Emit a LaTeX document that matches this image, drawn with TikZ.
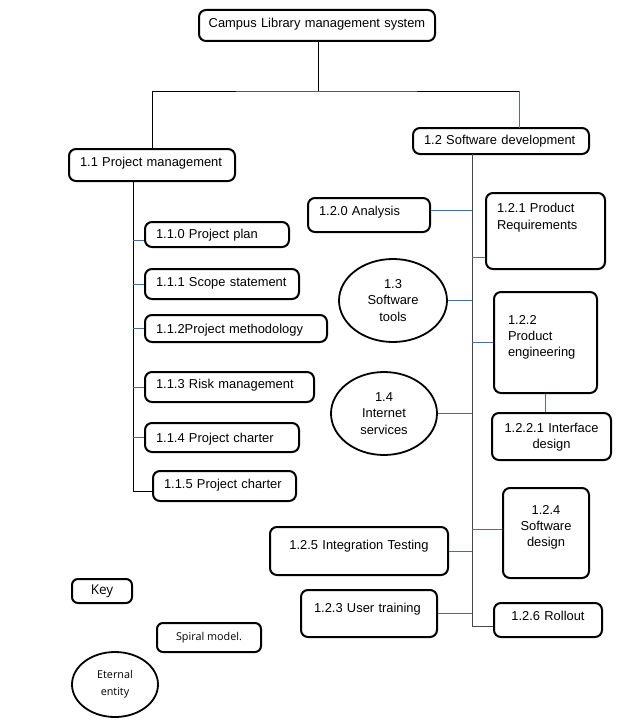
\documentclass[tikz,border=0pt]{standalone}
\usepackage{fontspec}
\setmainfont{Liberation Sans}
\newfontfamily\keyfont{Open Sans}
\usepackage{tikz}
\usetikzlibrary{positioning, shapes, arrows.meta, calc}
\definecolor{linkblue}{RGB}{70,110,160}
\definecolor{spinegray}{RGB}{70,70,70}
\tikzstyle{wbs}=[%
      rectangle, rounded corners=7pt, draw=black, line width=2pt, fill=none,
      anchor=base west, inner xsep=11pt, inner ysep=0pt, align=left,
      font=\fontsize{12.9}{16.2}\selectfont
]
\tikzstyle{ent}=[%
      ellipse, draw=black, line width=1.8pt, fill=none,
      inner sep=0pt, align=center,
      font=\fontsize{12.9}{16.2}\selectfont
]
\tikzstyle{keybox}=[%
      rectangle, rounded corners=6pt, draw=black, line width=2pt, fill=none,
      inner sep=0pt, align=center
]
\tikzstyle{trunk}=[draw=black, line width=0.9pt]
\tikzstyle{spine}=[draw=spinegray, line width=1pt]
\tikzstyle{twig}=[draw=linkblue, line width=0.9pt]

\begin{document}
\begin{tikzpicture}[x=1pt, y=-1pt]
    \useasboundingbox (0,0) rectangle (627,725);

    % top and the two main parts
    \node[wbs, inner xsep=0pt, text width=236pt, align=center, text height=17.3pt, text depth=13.7pt] (top) at (198,27.3) {Campus Library management system};
    \node[wbs, text width=144pt, text height=17.6pt, text depth=14.4pt] (pm) at (68,166.6) {1.1 Project management};
    \node[wbs, text width=154pt, text height=16.6pt, text depth=9.4pt] (sd) at (412,144.6) {1.2 Software development};

    % project management column
    \node[wbs, text width=122pt, text height=16pt,   text depth=9pt]    (plan)     at (144,238)   {1.1.0 Project plan};
    \node[wbs, text width=132pt, text height=17.3pt, text depth=12.7pt] (scope)    at (144,286.3) {1.1.1 Scope statement};
    \node[wbs, text width=160pt, text height=18.6pt, text depth=8.4pt]  (meth)     at (144,333.6) {1.1.2Project methodology};
    \node[wbs, text width=147pt, text height=16.6pt, text depth=13.4pt] (risk)     at (144,388.6) {1.1.3 Risk management};
    \node[wbs, text width=132pt, text height=19.6pt, text depth=9.4pt]  (charter4) at (144,442.6) {1.1.4 Project charter};
    \node[wbs, text width=121pt, text height=17pt,   text depth=13pt]   (charter5) at (152,488)   {1.1.5 Project charter};

    % software development parts
    \node[wbs, text width=100pt, text height=17.3pt, text depth=16.7pt] (ana) at (307,215.3) {1.2.0 Analysis};
    \node[wbs, text width=97pt,  text height=19.9pt, text depth=56.1pt] (req) at (485,212.9) {1.2.1 Product\\Requirements};
    \node[wbs, inner xsep=14pt, text width=75pt, text height=32pt, text depth=69pt] (eng) at (493,324) {1.2.2\\Product\\engineering};
    \node[wbs, text width=97pt, align=center, text height=19pt, text depth=28pt] (iface) at (491,432) {1.2.2.1 Interface\\design};
    \node[wbs, text width=64pt, align=center, text height=26pt, text depth=64pt] (swd) at (502,514) {1.2.4\\Software\\design};
    \node[wbs, text width=156pt, align=center, text height=22.6pt, text depth=25.4pt] (integ) at (269,549.6) {1.2.5 Integration Testing};
    \node[wbs, inner xsep=13pt, text width=110pt, text height=22pt, text depth=25pt] (train) at (300,612) {1.2.3 User training};
    \node[wbs, text width=86pt, align=center, text height=17.6pt, text depth=16.4pt] (rollout) at (493,620.6) {1.2.6 Rollout};
    \node[ent, minimum width=108pt, minimum height=83pt] (tools) at (393,300.5) {1.3\\Software\\tools};
    \node[ent, minimum width=106pt, minimum height=83pt] (inet) at (384,413.5) {1.4\\Internet\\services};

    % key
    \node[keybox, minimum width=60pt, minimum height=24pt, font=\keyfont\fontsize{13.5}{16}\selectfont] (key) at (102,591) {Key};
    \node[keybox, minimum width=104pt, minimum height=29pt, font=\keyfont\fontsize{10.8}{13}\selectfont] (spiral) at (209,637.5) {Spiral model.};
    \node[ent, minimum width=86pt, minimum height=65pt, font=\keyfont\fontsize{10.8}{17}\selectfont] (eternal) at (115,684.5) {Eternal\\entity};

    % connectors
    \coordinate (split)  at (318,91);
    \coordinate (sdin)   at (519,128);
    \coordinate (pmfoot) at (133,181);
    \coordinate (sdfoot) at (472,154);
    \coordinate (planin) at ([yshift=-6pt]plan.west);
    \coordinate (ch5in)  at ([yshift=-5pt]charter5.west);
    \coordinate (anaout) at ([yshift=5pt]ana.east);
    \coordinate (reqin)  at ([yshift=-26pt]req.west);
    \coordinate (swdin)  at ([yshift=4pt]swd.west);
    \coordinate (rollin) at ([yshift=-6pt]rollout.west);

    \draw[trunk] (top.south -| split) -- (split);
    \draw[trunk] (pm.north) |- (split) -- (split -| sdin);
    \draw[twig] (split -| sdin) -- (sdin);

    \draw[trunk] (pmfoot) |- (ch5in);
    \draw[twig] (planin) -- (planin -| pmfoot)
                (scope.west) -- (scope.west -| pmfoot)
                (meth.west) -- (meth.west -| pmfoot)
                (risk.west) -- (risk.west -| pmfoot)
                (charter4.west) -- (charter4.west -| pmfoot);

    \draw[spine] (sdfoot) |- (rollin);
    \draw[twig] (anaout) -- (anaout -| sdfoot)
                (reqin) -- (reqin -| sdfoot)
                (tools.east) -- (tools.east -| sdfoot)
                (eng.west) -- (eng.west -| sdfoot)
                (inet.east) -- (inet.east -| sdfoot)
                (swdin) -- (swdin -| sdfoot)
                (integ.east) -- (integ.east -| sdfoot)
                (train.east) -- (train.east -| sdfoot)
                (eng.south) -- (eng.south |- iface.north);
\end{tikzpicture}
\end{document}
